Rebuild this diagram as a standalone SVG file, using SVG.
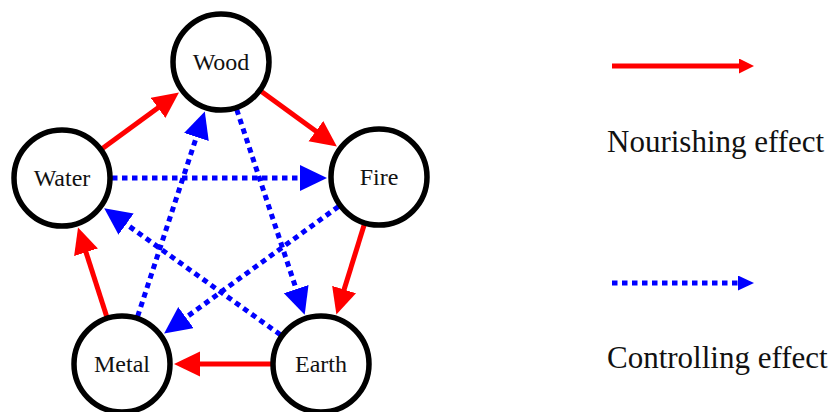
<svg xmlns="http://www.w3.org/2000/svg" width="839" height="412" viewBox="0 0 839 412">
  <style>
    .node circle { fill: #ffffff; stroke: #000000; stroke-width: 5.5; }
    .node text { font-family: "Liberation Serif", "Times New Roman", serif; font-size: 24px; fill: #111111; text-anchor: middle; }
    .nourish { stroke: #ff0000; stroke-width: 5; fill: none; }
    .control { stroke: #0000ff; stroke-width: 5; fill: none; stroke-dasharray: 5.5 4.5; }
    .legend-text { font-family: "Liberation Serif", "Times New Roman", serif; font-size: 31px; fill: #111111; }
  </style>
  <defs>
    <marker id="headRed" markerUnits="userSpaceOnUse" markerWidth="27" markerHeight="26" refX="1" refY="12.5" orient="auto">
      <path d="M0,0 L26,12.5 L0,25 z" fill="#ff0000"/>
    </marker>
    <marker id="headBlue" markerUnits="userSpaceOnUse" markerWidth="28" markerHeight="28" refX="1" refY="13" orient="auto">
      <path d="M0,0 L27,13 L0,26 z" fill="#0000ff"/>
    </marker>
    <marker id="headRedSmall" markerUnits="userSpaceOnUse" markerWidth="16" markerHeight="16" refX="1" refY="7.5" orient="auto">
      <path d="M0,0 L15,7.5 L0,15 z" fill="#ff0000"/>
    </marker>
    <marker id="headBlueSmall" markerUnits="userSpaceOnUse" markerWidth="17" markerHeight="16" refX="1" refY="7.5" orient="auto">
      <path d="M0,0 L16,7.5 L0,15 z" fill="#0000ff"/>
    </marker>
  </defs>

  <rect width="839" height="412" fill="#ffffff"/>

  <!-- connectors: nourishing cycle (solid red) and controlling star (dotted blue) -->
  <g id="connectors">
    <line class="nourish" x1="102.4" y1="148.5" x2="158.8" y2="107.3" marker-end="url(#headRed)"/>
    <line class="nourish" x1="261.4" y1="91.4" x2="316.7" y2="131.7" marker-end="url(#headRed)"/>
    <line class="nourish" x1="364.2" y1="224.8" x2="343.8" y2="290.5" marker-end="url(#headRed)"/>
    <line class="nourish" x1="271" y1="364" x2="199" y2="364" marker-end="url(#headRed)"/>
    <line class="nourish" x1="106.7" y1="316.4" x2="85.7" y2="251.3" marker-end="url(#headRed)"/>

    <line class="control" x1="236.7" y1="109.5" x2="296.5" y2="290" marker-end="url(#headBlue)"/>
    <line class="control" x1="280.4" y1="334.8" x2="125.3" y2="223.5" marker-end="url(#headBlue)"/>
    <line class="control" x1="112" y1="178" x2="301" y2="178" marker-end="url(#headBlue)"/>
    <line class="control" x1="338.5" y1="206.5" x2="185.1" y2="318.1" marker-end="url(#headBlue)"/>
    <line class="control" x1="137.6" y1="316.5" x2="196.7" y2="136.1" marker-end="url(#headBlue)"/>
  </g>

  <!-- element nodes -->
  <g id="wood" class="node">
    <circle cx="221" cy="62" r="48"/>
    <text x="221" y="70">Wood</text>
  </g>
  <g id="fire" class="node">
    <circle cx="379" cy="177" r="48"/>
    <text x="379" y="185">Fire</text>
  </g>
  <g id="earth" class="node">
    <circle cx="321" cy="364" r="48"/>
    <text x="321" y="372">Earth</text>
  </g>
  <g id="metal" class="node">
    <circle cx="122" cy="364" r="48"/>
    <text x="122" y="372">Metal</text>
  </g>
  <g id="water" class="node">
    <circle cx="62" cy="178" r="48"/>
    <text x="62" y="186">Water</text>
  </g>

  <!-- legend -->
  <g id="legend">
    <line class="nourish" x1="612" y1="66" x2="740" y2="66" marker-end="url(#headRedSmall)"/>
    <text class="legend-text" x="607" y="152">Nourishing effect</text>
    <line class="control" x1="612" y1="283" x2="739" y2="283" stroke-dasharray="5 5.5" marker-end="url(#headBlueSmall)"/>
    <text class="legend-text" x="607" y="368">Controlling effect</text>
  </g>
</svg>
